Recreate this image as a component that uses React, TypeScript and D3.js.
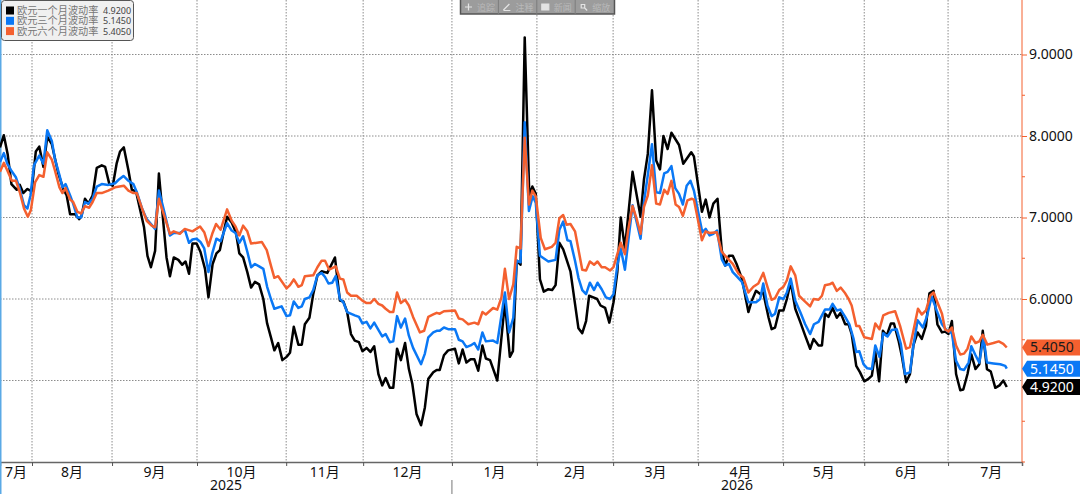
import { useEffect, useRef } from 'react';
import * as d3 from 'd3';

type Point = [number, number];

// [trading day since the left edge, vol]
const vol1m: Point[] = [
  [0, 7.86], [1, 8.01], [2, 7.78], [3, 7.41], [4.4, 7.34], [5.2, 7.4], [6.1, 7.3], [7.2, 7.35], [8.3, 7.32], [9.4, 7.81],
  [10.3, 7.87], [11.4, 7.62], [12.4, 7.99], [13.6, 7.9], [15.3, 7.54], [16.6, 7.35], [17.5, 7.27], [18.4, 7.04], [19.7, 7.04], [20.8, 6.98],
  [21.4, 7.02], [22.3, 7.23], [23.2, 7.17], [24.3, 7.27], [25.4, 7.61], [26.7, 7.64], [27.6, 7.62], [28.7, 7.41], [29.6, 7.39], [30.6, 7.66],
  [31.5, 7.81], [32.5, 7.86], [33.7, 7.58], [34.6, 7.34], [35.7, 7.32], [36.7, 7.11], [37.8, 6.88], [38.7, 6.53], [39.6, 6.39], [40.7, 6.59],
  [41.7, 7.54], [42.9, 6.92], [43.7, 6.51], [44.6, 6.28], [45.6, 6.51], [46.8, 6.48], [47.8, 6.42], [48.7, 6.46], [49.6, 6.31], [50.5, 6.68],
  [51.6, 6.68], [52.6, 6.58], [53.8, 6.37], [54.7, 6.02], [55.8, 6.43], [56.8, 6.56], [57.7, 6.6], [58.6, 6.8], [59.6, 7.01], [60.8, 6.94],
  [61.9, 6.82], [62.8, 6.56], [63.8, 6.51], [64.9, 6.33], [65.9, 6.14], [66.9, 6.21], [68, 6.18], [69.1, 6], [70.1, 5.7], [71.1, 5.53],
  [72, 5.37], [73, 5.46], [74.1, 5.25], [75.2, 5.29], [76.1, 5.34], [77.1, 5.66], [78.3, 5.44], [79.2, 5.44], [80, 5.69], [81.2, 5.77],
  [82.2, 6.06], [83.3, 6.29], [84.4, 6.34], [85.9, 6.32], [87.9, 6.51], [89.2, 5.98], [90.1, 5.97], [91.1, 5.84], [92.1, 5.57], [93.1, 5.49],
  [94.2, 5.47], [95.1, 5.36], [96.2, 5.4], [97.2, 5.35], [98.2, 5.42], [99.3, 5.08], [100.3, 4.94], [101.2, 5.03], [102.3, 4.91], [103.2, 4.91],
  [104.2, 5.39], [105.2, 5.25], [106.3, 5.46], [107.3, 5.14], [108.2, 4.96], [109.3, 4.59], [110.5, 4.45], [111.5, 4.67], [112.4, 5.02], [113.7, 5.1],
  [114.6, 5.13], [115.4, 5.13], [116.5, 5.31], [117.6, 5.37], [119.4, 5.39], [120.4, 5.21], [121.4, 5.38], [122.4, 5.22], [123.5, 5.26], [124.5, 5.26],
  [125.5, 5.12], [126.6, 5.43], [127.5, 5.27], [128.6, 5.25], [130.5, 5], [132.5, 5.96], [133.8, 5.29], [134.6, 5.36], [135.6, 6.47], [136.6, 6.42],
  [137.7, 9.21], [138.9, 7.27], [139.7, 7.38], [140.6, 7.29], [141.7, 6.24], [142.7, 6.09], [143.9, 6.12], [144.9, 6.11], [145.8, 6.17], [146.8, 6.69],
  [147.8, 6.61], [149.7, 6.34], [150.9, 5.94], [151.8, 5.64], [152.8, 5.58], [153.8, 5.73], [154.6, 6.04], [155.7, 6.02], [156.7, 6], [157.6, 5.92],
  [158.8, 5.89], [159.9, 5.71], [161, 5.96], [162, 6.33], [162.9, 7], [164, 6.62], [166, 7.56], [167.1, 7.27], [168.1, 7.01], [169, 7.47],
  [170, 7.78], [171.1, 8.56], [172.2, 7.7], [173.2, 7.59], [174.1, 8], [175.2, 7.84], [176.2, 8.04], [178.2, 7.89], [179.3, 7.66], [181.4, 7.8],
  [182.1, 7.75], [184.2, 7.07], [185.2, 7.22], [186.2, 7], [187.2, 7.17], [188.3, 7.23], [189.4, 6.6], [190.3, 6.41], [191.3, 6.53], [192.3, 6.53],
  [193.3, 6.43], [194.7, 6.25], [196.4, 5.84], [197.3, 5.98], [198.4, 6.1], [199.5, 6.06], [200.3, 6.08], [201.7, 5.77], [202.5, 5.63], [203.4, 5.65],
  [204.5, 5.86], [205.6, 5.86], [206.5, 6], [207.5, 6.21], [208.7, 5.88], [210, 5.72], [211.3, 5.55], [212.6, 5.39], [213.5, 5.51], [214.8, 5.43],
  [215.7, 5.43], [216.5, 5.82], [217.4, 5.78], [218.5, 5.89], [219.6, 5.77], [220.6, 5.83], [221.8, 5.69], [222.7, 5.69], [223.5, 5.57], [224.7, 5.18],
  [225.7, 5.1], [226.8, 4.99], [227.9, 5.02], [228.8, 5.06], [229.7, 5.35], [230.7, 4.99], [231.7, 5.61], [232.7, 5.55], [233.8, 5.7], [234.6, 5.7],
  [235.8, 5.49], [236.7, 5.29], [237.8, 4.98], [238.8, 5.08], [239.7, 5.43], [240.8, 5.59], [241.9, 5.51], [243, 5.67], [243.9, 6.07], [245, 6.1],
  [246, 5.69], [247.2, 5.59], [248, 5.6], [248.9, 5.57], [249.8, 5.73], [250.9, 5.08], [252, 4.88], [252.8, 4.89], [253.9, 5.08], [254.9, 5.32],
  [256, 5.14], [257, 5.2], [257.9, 5.61], [259, 5.14], [260, 5.11], [261.2, 4.91], [262.3, 4.94], [263.3, 5], [264.2, 4.92],
];

const vol3m: Point[] = [
  [0, 7.68], [1, 7.79], [1.9, 7.66], [2.9, 7.58], [4.2, 7.49], [5.2, 7.35], [6.3, 7.15], [7.2, 7.11], [8, 7.27], [8.9, 7.64],
  [10.3, 7.76], [11.4, 7.66], [12.4, 8.07], [13.6, 7.94], [14.4, 7.72], [15.6, 7.52], [16.4, 7.37], [17.2, 7.41], [18.4, 7.27], [19.2, 7.17],
  [20.3, 7], [21.3, 7], [22.3, 7.19], [23.2, 7.17], [24.3, 7.23], [25.4, 7.38], [26.7, 7.41], [28.4, 7.4], [30.2, 7.42], [31.3, 7.47],
  [32.4, 7.51], [33.7, 7.45], [35, 7.41], [35.9, 7.31], [37.2, 7.12], [38.5, 6.98], [39.8, 6.91], [40.7, 6.86], [41.7, 7.33], [42.9, 7.11],
  [44.6, 6.78], [45.6, 6.81], [47.2, 6.81], [48.5, 6.85], [49.6, 6.69], [50.5, 6.73], [51.6, 6.74], [52.6, 6.7], [53.6, 6.62], [54.7, 6.33],
  [55.7, 6.56], [56.8, 6.74], [57.9, 6.71], [59.6, 6.93], [60.8, 6.84], [61.8, 6.81], [62.8, 6.69], [63.8, 6.77], [64.9, 6.58], [65.9, 6.39],
  [66.9, 6.43], [68, 6.4], [69.1, 6.37], [70.1, 6.15], [71.1, 6], [72, 5.88], [73.9, 5.91], [75.2, 5.79], [76.1, 5.8], [77.1, 5.97],
  [78.3, 5.89], [79.2, 5.91], [80, 6], [81.2, 6.02], [82.2, 6.11], [83.3, 6.29], [84.4, 6.32], [85.3, 6.27], [86.2, 6.19], [87.2, 6.2],
  [88.1, 6.28], [89.2, 6], [90.1, 5.96], [91.1, 5.84], [93.1, 5.8], [94.2, 5.78], [95.1, 5.7], [96.2, 5.72], [97.2, 5.64], [98.2, 5.71],
  [99.3, 5.62], [100.3, 5.54], [101.2, 5.57], [102.3, 5.47], [103.2, 5.48], [104.2, 5.79], [105.2, 5.65], [106.3, 5.76], [107.3, 5.55], [108.4, 5.4],
  [110.5, 5.2], [111.5, 5.33], [112.4, 5.53], [113.7, 5.59], [114.6, 5.61], [115.4, 5.61], [116.5, 5.65], [117.6, 5.63], [119.4, 5.63], [120.4, 5.5],
  [121.4, 5.48], [122.4, 5.41], [123.5, 5.43], [124.5, 5.46], [125.5, 5.38], [126.6, 5.59], [127.5, 5.48], [129.4, 5.49], [130.5, 5.46], [132.5, 6.08],
  [133.6, 5.59], [134.7, 5.77], [135.6, 6.47], [136.6, 6.45], [137.7, 8.17], [138.8, 7.08], [139.8, 7.26], [140.6, 7.18], [141.7, 6.53], [143.9, 6.46],
  [145.8, 6.48], [146.8, 6.85], [147.8, 6.95], [148.9, 6.72], [149.7, 6.71], [150.9, 6.47], [151.8, 6.26], [152.8, 6.11], [153.8, 6.06], [154.8, 6.2],
  [155.9, 6.11], [156.8, 6.2], [157.9, 6.12], [159, 6.02], [160.1, 6], [161, 6.06], [162, 6.41], [162.9, 6.62], [164, 6.36], [164.9, 6.72],
  [166, 7.15], [167.1, 6.94], [168.1, 6.74], [169, 7.19], [170, 7.52], [171.1, 7.9], [172.2, 7.31], [173.2, 7.3], [174.3, 7.54], [175.2, 7.56],
  [176.2, 7.63], [177.2, 7.36], [178.2, 7.29], [179.2, 7.16], [180.2, 7.39], [181.2, 7.45], [182.1, 7.33], [183.3, 7.05], [184.3, 6.82], [185.2, 6.86],
  [186.2, 6.78], [187.2, 6.8], [188.2, 6.84], [189.4, 6.49], [190.3, 6.41], [191.3, 6.43], [192.3, 6.33], [193.3, 6.28], [194.7, 6.21], [196.4, 5.96],
  [198.4, 5.96], [199.5, 6], [200.3, 6.19], [201.4, 5.92], [202.5, 5.79], [203.4, 5.82], [204.5, 6.02], [205.6, 6], [206.5, 6.08], [207.5, 6.25],
  [208.7, 5.98], [210, 5.84], [211.3, 5.69], [212.6, 5.57], [213.6, 5.69], [214.8, 5.72], [216.5, 5.87], [217.7, 5.87], [218.5, 5.94], [219.6, 5.86],
  [220.6, 5.87], [221.8, 5.78], [222.9, 5.69], [224, 5.51], [224.7, 5.35], [225.5, 5.36], [226.6, 5.2], [227.6, 5.15], [228.8, 5.14], [229.7, 5.43],
  [230.8, 5.29], [231.8, 5.58], [232.9, 5.54], [234, 5.62], [235.3, 5.63], [236.4, 5.45], [237.5, 5.08], [238.8, 5.1], [239.7, 5.43], [240.8, 5.74],
  [242.2, 5.65], [243.2, 5.78], [244.5, 6.03], [245.8, 5.86], [247.2, 5.69], [248.5, 5.61], [249.8, 5.58], [250.9, 5.24], [252, 5.14], [253, 5.13],
  [254.2, 5.22], [254.9, 5.42], [256, 5.31], [257, 5.22], [258.1, 5.53], [259, 5.22], [260.7, 5.21], [262.5, 5.2], [263.8, 5.18], [264.2, 5.145],
];

const vol6m: Point[] = [
  [0, 7.56], [1, 7.67], [1.9, 7.58], [3.1, 7.45], [4.2, 7.45], [5.2, 7.31], [6.3, 7.11], [7.3, 7.01], [8.1, 7.09], [9.2, 7.43],
  [10.3, 7.52], [11.4, 7.5], [12.4, 7.8], [13.6, 7.71], [14.4, 7.58], [15.6, 7.37], [16.4, 7.3], [17.2, 7.36], [18.4, 7.22], [19.2, 7.19],
  [20.3, 7.07], [21.3, 7.05], [22.3, 7.14], [23.4, 7.12], [24.3, 7.19], [25.4, 7.3], [26.7, 7.3], [28.4, 7.33], [30.2, 7.37], [32.5, 7.39],
  [33.7, 7.33], [35, 7.3], [35.9, 7.3], [37.2, 7.12], [38.5, 6.96], [39.8, 6.9], [40.7, 6.88], [41.7, 7.23], [42.9, 7.05], [44.6, 6.8],
  [45.6, 6.83], [47.2, 6.8], [48.5, 6.86], [50.5, 6.83], [52.5, 6.89], [53.6, 6.82], [54.7, 6.65], [55.7, 6.8], [56.7, 6.92], [57.9, 6.85],
  [59.6, 7.1], [60.8, 6.96], [61.8, 6.89], [62.8, 6.78], [63.8, 6.9], [64.9, 6.83], [65.9, 6.68], [68.7, 6.7], [70, 6.6], [71.1, 6.41],
  [72, 6.26], [73, 6.28], [75.2, 6.13], [76.1, 6.17], [77.1, 6.24], [78.3, 6.15], [79.2, 6.17], [80, 6.28], [82.2, 6.29], [83.3, 6.39],
  [84.4, 6.47], [85.3, 6.47], [86.4, 6.36], [88.1, 6.4], [89.2, 6.25], [90.1, 6.24], [91.1, 6.08], [92.1, 6.04], [93.6, 6.04], [95.1, 5.98],
  [96.2, 5.95], [97.2, 5.95], [98.2, 6], [99.3, 5.94], [100.3, 5.92], [101.2, 5.88], [102.3, 5.84], [103.2, 5.84], [104.2, 6.08], [105.2, 5.95],
  [106.3, 5.99], [107.3, 5.92], [108.4, 5.78], [110.2, 5.59], [111.3, 5.61], [112.4, 5.78], [113.7, 5.81], [114.6, 5.83], [115.4, 5.82], [116.5, 5.85],
  [119.4, 5.86], [120.4, 5.76], [121.4, 5.75], [122.9, 5.69], [124.5, 5.71], [125.5, 5.69], [126.6, 5.84], [127.5, 5.81], [129.4, 5.89], [130.5, 5.87],
  [131.6, 6.02], [132.5, 6.37], [133.6, 6], [134.7, 6.18], [135.6, 6.64], [136.6, 6.62], [137.7, 7.98], [138.8, 7.16], [139.7, 7.33], [140.6, 7.26],
  [141.9, 6.75], [143, 6.61], [144.8, 6.64], [145.8, 6.69], [146.8, 6.99], [147.8, 7.03], [148.7, 6.91], [149.7, 6.92], [150.9, 6.83], [152.8, 6.36],
  [153.8, 6.35], [154.8, 6.46], [155.9, 6.42], [156.8, 6.46], [157.9, 6.39], [158.8, 6.39], [160.1, 6.35], [161, 6.39], [162, 6.55], [162.9, 6.69],
  [164, 6.55], [164.9, 6.86], [166, 7.14], [167.1, 6.98], [168.1, 6.8], [169, 7.13], [170, 7.27], [171.1, 7.64], [172.2, 7.17], [173.2, 7.16],
  [174.3, 7.34], [175.2, 7.29], [176.2, 7.45], [177.3, 7.16], [178.2, 7.13], [179.2, 7.02], [180.4, 7.21], [181.5, 7.23], [182.1, 7.22], [183.3, 6.94],
  [184.2, 6.72], [185.2, 6.83], [186.2, 6.81], [188.1, 6.82], [189.4, 6.58], [190.7, 6.51], [192.3, 6.43], [193.8, 6.31], [195.1, 6.26], [196.4, 6.08],
  [197.7, 6.15], [199, 6.19], [200.3, 6.32], [201.4, 6.15], [202.5, 5.99], [203.4, 6.01], [204.5, 6.11], [205.6, 6.15], [206.5, 6.23], [207.5, 6.4],
  [208.7, 6.29], [209.7, 6.04], [211, 5.98], [212.6, 5.91], [213.5, 6], [214.8, 5.99], [215.7, 6.04], [216.5, 6.17], [217.7, 6.18], [218.5, 6.2],
  [219.6, 6.1], [220.6, 6.14], [221.8, 6.07], [222.7, 6], [223.5, 5.92], [224.7, 5.67], [225.5, 5.67], [226.8, 5.53], [228.8, 5.51], [229.7, 5.7],
  [230.8, 5.63], [231.8, 5.8], [233.2, 5.83], [234.9, 5.85], [236.2, 5.67], [237.8, 5.39], [238.8, 5.41], [239.7, 5.61], [240.9, 5.88], [241.9, 5.81],
  [243, 5.86], [244.1, 6.04], [245, 6.08], [246, 5.96], [247.2, 5.82], [248, 5.63], [248.9, 5.6], [249.8, 5.65], [250.9, 5.43], [252, 5.32],
  [253, 5.33], [253.9, 5.39], [254.9, 5.54], [256, 5.46], [257, 5.48], [257.9, 5.56], [259.1, 5.44], [260.7, 5.46], [262.1, 5.48], [263.3, 5.45], [264.2, 5.405],
];

const seriesNames = ['欧元一个月波动率', '欧元三个月波动率', '欧元六个月波动率'];
const seriesColors = ['#000000', '#0a78f5', '#f4602f'];
const lastValues = [4.92, 5.145, 5.405];
const tagTextColors = ['#ffffff', '#ffffff', '#1a1a1a'];

const monthStarts = [8.4, 29.4, 51.7, 75.1, 95.3, 118.6, 140.9, 160.9, 183.2, 205.5, 226.8, 248.8];
const monthLabels = ['7月', '8月', '9月', '10月', '11月', '12月', '1月', '2月', '3月', '4月', '5月', '6月', '7月'];
const yearBreak = 118.6;
const yearLabels = ['2025', '2026'];
const majorTicks = [5, 6, 7, 8, 9];
const labelledTicks = [6, 7, 8, 9]; // 5.0000 sits behind the last value tags
const minorTicks = [4, 4.5, 5.5, 6.5, 7.5, 8.5];
const toolbarItems = ['追踪', '注释', '新闻', '缩放'];

const W = 1080;
const H = 494;
const plotRight = 1022;
const plotBottom = 462;
const lastDay = 268.2;
const lastLabelEdge = 271.5;
const uiFont = '"Noto Sans", "Noto Sans CJK SC", sans-serif';

const App = () => {
  const ref = useRef<SVGSVGElement | null>(null);

  useEffect(() => {
    if (!ref.current) return;
    const svg = d3.select(ref.current);
    svg.selectAll('*').remove();

    const x = d3.scaleLinear().domain([0, lastDay]).range([0, plotRight]);
    const y = d3.scaleLinear().domain([4, 9]).range([plotBottom, 54.5]);

    // grid
    const grid = svg.append('g').attr('stroke', '#8c8c8c').attr('stroke-dasharray', '1.5,1.5');
    majorTicks.forEach(v => {
      grid.append('line').attr('x1', 0).attr('x2', plotRight).attr('y1', y(v)).attr('y2', y(v));
    });
    monthStarts.forEach(d => {
      grid.append('line').attr('x1', x(d)).attr('x2', x(d)).attr('y1', 0).attr('y2', plotBottom);
    });

    // bottom axis
    const xAxis = svg.append('g').attr('transform', `translate(0, ${plotBottom})`)
      .call(d3.axisBottom(x).tickValues(monthStarts).tickSize(4).tickFormat(() => ''));
    xAxis.select('.domain').attr('stroke', '#666').attr('stroke-width', 1.5);
    xAxis.selectAll('.tick line').attr('stroke', '#555');

    const edges = [0, ...monthStarts, lastLabelEdge];
    monthLabels.forEach((label, i) => {
      svg.append('text')
        .attr('x', (x(edges[i]) + x(edges[i + 1])) / 2)
        .attr('y', 477)
        .attr('text-anchor', 'middle')
        .attr('font-family', uiFont)
        .attr('font-size', 14)
        .attr('fill', '#111')
        .text(label);
    });
    svg.append('line')
      .attr('x1', x(yearBreak)).attr('x2', x(yearBreak))
      .attr('y1', 480).attr('y2', H)
      .attr('stroke', '#777');
    yearLabels.forEach((label, i) => {
      svg.append('text')
        .attr('x', i === 0 ? x(yearBreak) / 2 : (x(yearBreak) + plotRight) / 2)
        .attr('y', 490)
        .attr('text-anchor', 'middle')
        .attr('font-family', uiFont)
        .attr('font-size', 14)
        .attr('fill', '#111')
        .text(label);
    });

    // left edge
    svg.append('line').attr('x1', 0.5).attr('x2', 0.5).attr('y1', 0).attr('y2', H).attr('stroke', '#5aa9e6').attr('stroke-width', 2);

    // right axis
    const yAxis = svg.append('g').attr('transform', `translate(${plotRight}, 0)`)
      .call(d3.axisRight(y).tickValues(labelledTicks).tickSize(5).tickPadding(2).tickFormat(d => d3.format('.4f')(d as number)));
    yAxis.select('.domain').remove();
    yAxis.selectAll('.tick line').attr('stroke', '#f4602f');
    yAxis.selectAll('text').attr('font-family', uiFont).attr('font-size', 14).attr('fill', '#111');
    svg.append('line')
      .attr('x1', plotRight).attr('x2', plotRight).attr('y1', 0).attr('y2', plotBottom)
      .attr('stroke', '#f4602f');
    minorTicks.forEach(v => {
      svg.append('line')
        .attr('x1', plotRight).attr('x2', plotRight + 3).attr('y1', y(v)).attr('y2', y(v))
        .attr('stroke', '#f4602f');
    });

    // lines
    const line = d3.line<Point>().x(d => x(d[0])).y(d => y(d[1]));
    [vol1m, vol3m, vol6m].forEach((data, i) => {
      svg.append('path')
        .attr('d', line(data))
        .attr('fill', 'none')
        .attr('stroke', seriesColors[i])
        .attr('stroke-width', 2.5)
        .attr('stroke-linejoin', 'round');
    });

    // last value tags
    lastValues.forEach((v, i) => {
      const cy = y(v);
      svg.append('path')
        .attr('d', `M${plotRight},${cy}L${plotRight + 5},${cy - 8}H${W}V${cy + 8}H${plotRight + 5}Z`)
        .attr('fill', seriesColors[i]);
      svg.append('text')
        .attr('x', plotRight + 8)
        .attr('y', cy + 5)
        .attr('font-family', uiFont)
        .attr('font-size', 14)
        .attr('fill', tagTextColors[i])
        .text(d3.format('.4f')(v));
    });

    // legend
    const legend = svg.append('g');
    legend.append('rect')
      .attr('x', 1.5).attr('y', 0.5).attr('width', 132).attr('height', 40).attr('rx', 3)
      .attr('fill', '#f0f0f0').attr('stroke', '#555');
    seriesNames.forEach((name, i) => {
      const ly = 10.5 + i * 10.3;
      legend.append('rect').attr('x', 6).attr('y', ly - 4).attr('width', 8).attr('height', 8).attr('fill', seriesColors[i]);
      legend.append('text')
        .attr('x', 17).attr('y', ly + 3.5)
        .attr('font-family', '"Noto Sans CJK SC", sans-serif').attr('font-size', 10.2).attr('fill', '#777')
        .text(name);
      legend.append('text')
        .attr('x', 103).attr('y', ly + 3.5)
        .attr('font-family', uiFont).attr('font-size', 9).attr('fill', '#444')
        .text(d3.format('.4f')(lastValues[i]));
    });

    // toolbar
    const bar = svg.append('g');
    bar.append('rect').attr('x', 460.5).attr('y', -1).attr('width', 154).attr('height', 15)
      .attr('fill', '#9c9c9c').attr('stroke', '#555').attr('stroke-width', 1.5);
    const icons = ['M5,7H12M8.5,3.5V10.5', 'M5,10L11,4M5,10.5H12', 'M5,4H12V10H5Z', 'M6,4.5h3.5v3.5h-3.5ZM9.5,8L12,10.5'];
    toolbarItems.forEach((label, i) => {
      const bx = 460 + i * 38.4;
      if (i > 0) {
        bar.append('line').attr('x1', bx).attr('x2', bx).attr('y1', 0).attr('y2', 14).attr('stroke', '#7d7d7d');
      }
      bar.append('path')
        .attr('transform', `translate(${bx}, 0)`)
        .attr('d', icons[i])
        .attr('fill', i === 2 ? '#e4e4e4' : 'none')
        .attr('stroke', '#e4e4e4')
        .attr('stroke-width', 1.2);
      bar.append('text')
        .attr('x', bx + 17).attr('y', 10.5)
        .attr('font-family', '"Noto Sans CJK SC", sans-serif').attr('font-size', 9).attr('fill', '#b9b9b9')
        .text(label);
    });
  }, []);

  return (
    <svg
      ref={ref}
      width={W}
      height={H}
      style={{ position: 'absolute', left: 0, top: 0, background: '#fff' }}
    />
  );
};

export default App;
